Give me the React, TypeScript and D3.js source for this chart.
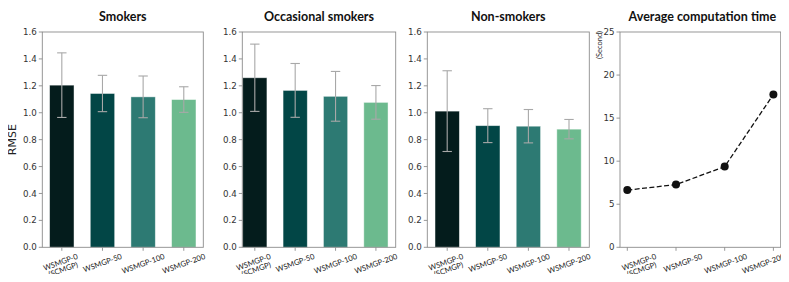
import React from 'react';
import * as d3 from 'd3';

// values
const categories = ['WSMGP-0\n(SCMGP)', 'WSMGP-50', 'WSMGP-100', 'WSMGP-200'];
const smokersMean = [1.205, 1.143, 1.118, 1.098];
const smokersErr = [0.24, 0.135, 0.155, 0.095];
const occasionalMean = [1.26, 1.166, 1.122, 1.077];
const occasionalErr = [0.25, 0.2, 0.185, 0.125];
const nonSmokersMean = [1.012, 0.904, 0.9, 0.878];
const nonSmokersErr = [0.3, 0.126, 0.124, 0.072];
const timeSeconds = [6.64, 7.28, 9.37, 17.75];
const rmseTicks = [0, 0.2, 0.4, 0.6, 0.8, 1.0, 1.2, 1.4, 1.6];
const timeTicks = [0, 5, 10, 15, 20, 25];

const barColors = ['#041c1c', '#024646', '#2d7a73', '#6cba8e'];

const W = 789;
const H = 282;
const TOP = 32;
const BOTTOM = 247.3;
const SPINE = '#8c8c8c';
const TICK_FONT = 'DejaVu Sans, sans-serif';
const LABEL_FONT = 'Lato, sans-serif';

let ctx: CanvasRenderingContext2D | null = null;
function textWidth(t: string, font: string) {
  if (!ctx) ctx = document.createElement('canvas').getContext('2d');
  if (!ctx) return t.length * 4.6;
  ctx.font = font;
  return ctx.measureText(t).width;
}

// the line panel's labels sit a little off their ticks in the original
const noShift = [0, 0, 0, 0];
const lineLabelShift = [13, 7, 1, -10];

const XLabels = ({
  x,
  labels,
  shift = noShift,
}: {
  x: d3.ScaleLinear<number, number>;
  labels: string[];
  shift?: number[];
}) => {
  const fs = 7.6;
  const lh = fs * 1.02;
  const ang = (20 * Math.PI) / 180;
  return (
    <g>
      {labels.map((lab, i) => {
        const lines = lab.split('\n');
        const w = Math.max(...lines.map((l) => textWidth(l, `${fs}px Lato`)));
        const h = lines.length * lh;
        const bh = w * Math.sin(ang) + h * Math.cos(ang);
        const cx = x(i) + shift[i];
        const cy = BOTTOM + 5 + bh / 2;
        return (
          <text
            key={i}
            transform={`translate(${cx},${cy}) rotate(-20)`}
            fontFamily={LABEL_FONT}
            fontSize={fs}
            fill="#222"
            textAnchor="middle"
          >
            {lines.map((l, j) => (
              <tspan key={j} x={0} y={(j - (lines.length - 1) / 2) * lh + fs * 0.35}>
                {l}
              </tspan>
            ))}
          </text>
        );
      })}
    </g>
  );
};

const Frame = ({
  left,
  right,
  y,
  ticks,
  fmt,
  x,
}: {
  left: number;
  right: number;
  y: d3.ScaleLinear<number, number>;
  ticks: number[];
  fmt: (v: number) => string;
  x: d3.ScaleLinear<number, number>;
}) => (
  <g>
    <rect x={left} y={TOP} width={right - left} height={BOTTOM - TOP} fill="none" stroke={SPINE} strokeWidth={0.9} />
    {ticks.map((t) => (
      <g key={t}>
        <line x1={left - 3.5} x2={left} y1={y(t)} y2={y(t)} stroke={SPINE} strokeWidth={0.9} />
        <text x={left - 5.5} y={y(t)} dy="0.35em" textAnchor="end" fontFamily={TICK_FONT} fontSize={8.7} fill="#333">
          {fmt(t)}
        </text>
      </g>
    ))}
    {categories.map((_, i) => (
      <line key={i} x1={x(i)} x2={x(i)} y1={BOTTOM} y2={BOTTOM + 3.5} stroke={SPINE} strokeWidth={0.9} />
    ))}
  </g>
);

const BarPanel = ({
  title,
  left,
  right,
  xdom,
  mean,
  err,
}: {
  title: string;
  left: number;
  right: number;
  xdom: [number, number];
  mean: number[];
  err: number[];
}) => {
  const x = d3.scaleLinear().domain(xdom).range([left, right]);
  const y = d3.scaleLinear().domain([0, 1.6]).range([BOTTOM, TOP]);
  const bw = x(0.6) - x(0);
  return (
    <g>
      <text x={(left + right) / 2} y={20.5} textAnchor="middle" fontFamily={LABEL_FONT} fontWeight="bold" fontSize={12.5} fill="#111">
        {title}
      </text>
      {mean.map((m, i) => (
        <rect
          key={i}
          x={x(i) - bw / 2}
          y={y(m)}
          width={bw}
          height={y(0) - y(m)}
          fill={barColors[i]}
          stroke="#ffffff"
          strokeOpacity={0.55}
          strokeWidth={0.8}
        />
      ))}
      {mean.map((m, i) => (
        <g key={i} stroke="#a8a8a8" strokeWidth={1.1}>
          <line x1={x(i)} x2={x(i)} y1={y(m - err[i])} y2={y(m + err[i])} />
          <line x1={x(i) - 4.7} x2={x(i) + 4.7} y1={y(m + err[i])} y2={y(m + err[i])} />
          <line x1={x(i) - 4.7} x2={x(i) + 4.7} y1={y(m - err[i])} y2={y(m - err[i])} />
        </g>
      ))}
      <Frame left={left} right={right} y={y} x={x} ticks={rmseTicks} fmt={d3.format('.1f')} />
      <XLabels x={x} labels={categories} />
    </g>
  );
};

const LinePanel = ({ left, right }: { left: number; right: number }) => {
  const x = d3.scaleLinear().domain([-0.15, 3.15]).range([left, right]);
  const y = d3.scaleLinear().domain([0, 25]).range([BOTTOM, TOP]);
  const line = d3
    .line<number>()
    .x((_, i) => x(i))
    .y((d) => y(d));
  return (
    <g>
      <text x={(left + right) / 2 + 2} y={20.5} textAnchor="middle" fontFamily={LABEL_FONT} fontWeight="bold" fontSize={12.5} fill="#111">
        Average computation time
      </text>
      <path d={line(timeSeconds) ?? ''} fill="none" stroke="#111" strokeWidth={1.3} strokeDasharray="5,2.4" />
      {timeSeconds.map((v, i) => (
        <circle key={i} cx={x(i)} cy={y(v)} r={4} fill="#111" />
      ))}
      <Frame left={left} right={right} y={y} x={x} ticks={timeTicks} fmt={d3.format('d')} />
      <text
        transform={`translate(${left - 21},45) rotate(-90)`}
        textAnchor="middle"
        dy="0.35em"
        fontFamily={LABEL_FONT}
        fontSize={7.5}
        fill="#333"
      >
        (Second)
      </text>
      <XLabels x={x} labels={categories} shift={lineLabelShift} />
    </g>
  );
};

export default function App() {
  return (
    <svg width={W} height={H} style={{ display: 'block', margin: '-8px', background: '#fff', overflow: 'visible' }}>
      <text
        transform={`translate(12.5,${(TOP + BOTTOM) / 2}) rotate(-90)`}
        textAnchor="middle"
        dy="0.35em"
        fontFamily={TICK_FONT}
        fontSize={11}
        fill="#222"
      >
        RMSE
      </text>
      <BarPanel title="Smokers" left={42.3} right={203.3} xdom={[-0.48, 3.48]} mean={smokersMean} err={smokersErr} />
      <BarPanel title="Occasional smokers" left={242.3} right={395.7} xdom={[-0.31, 3.49]} mean={occasionalMean} err={occasionalErr} />
      <BarPanel title="Non-smokers" left={427.3} right={589.3} xdom={[-0.49, 3.5]} mean={nonSmokersMean} err={nonSmokersErr} />
      <LinePanel left={620} right={780.7} />
    </svg>
  );
}
